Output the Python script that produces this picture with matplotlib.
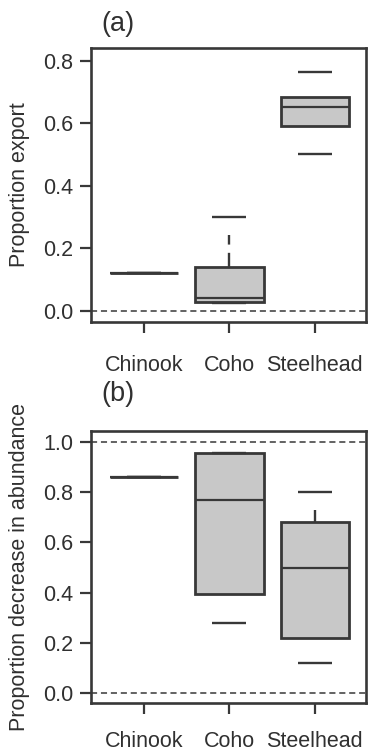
import matplotlib
matplotlib.use('Agg')
import matplotlib.pyplot as plt

plt.rcParams['font.family'] = ['Liberation Sans', 'DejaVu Sans']

# Espécies (eixo x)
especies = ['Chinook', 'Coho', 'Steelhead']

# (a) Proporção exportada - resumo dos boxplots
exp_q1 = [0.12, 0.029, 0.592]
exp_med = [0.12, 0.041, 0.653]
exp_q3 = [0.12, 0.140, 0.682]
exp_wlo = [0.12, 0.029, 0.592]
exp_whi = [0.12, 0.242, 0.682]
exp_min = [0.12, 0.025, 0.503]
exp_max = [0.12, 0.300, 0.764]

# (b) Proporção de redução na abundância
dec_q1 = [0.86, 0.394, 0.219]
dec_med = [0.86, 0.769, 0.498]
dec_q3 = [0.86, 0.956, 0.681]
dec_wlo = [0.86, 0.394, 0.219]
dec_whi = [0.86, 0.956, 0.729]
dec_min = [0.86, 0.279, 0.120]
dec_max = [0.86, 0.956, 0.800]

cor_linha = '#383838'
cor_caixa = '#c8c8c8'
cor_texto = '#303030'


def monta_stats(q1, med, q3, wlo, whi, vmin, vmax):
    stats = []
    for i in range(len(q1)):
        stats.append({'q1': q1[i], 'med': med[i], 'q3': q3[i],
                      'whislo': wlo[i], 'whishi': whi[i],
                      'fliers': [vmin[i], vmax[i]]})
    return stats


def desenha_painel(ax, stats, refs, ylim, yticks, ylabel, pad_x):
    ax.bxp(stats, positions=[1, 2, 3], widths=0.8, patch_artist=True,
           showcaps=False,
           boxprops=dict(facecolor=cor_caixa, edgecolor=cor_linha, linewidth=2.0),
           medianprops=dict(color=cor_linha, linewidth=1.6),
           whiskerprops=dict(color=cor_linha, linewidth=1.7, linestyle=(0, (6, 3.5))),
           flierprops=dict(marker='_', markersize=25, markeredgewidth=1.7,
                           markeredgecolor=cor_linha))
    for r in refs:
        ax.axhline(r, color=cor_linha, linewidth=1.1, linestyle=(0, (4, 2.5)), zorder=0)
    ax.set_xlim(0.38, 3.6)
    ax.set_ylim(*ylim)
    ax.set_yticks(yticks)
    ax.set_yticklabels([f'{t:.1f}' for t in yticks])
    ax.set_xticks([1, 2, 3])
    ax.set_xticklabels(especies)
    ax.tick_params(axis='y', length=8, width=1.6, color=cor_linha, labelcolor=cor_texto,
                   labelsize=15.5, pad=5)
    ax.tick_params(axis='x', length=8, width=1.6, color=cor_linha, labelcolor=cor_texto,
                   labelsize=15.5, pad=pad_x)
    for s in ax.spines.values():
        s.set_linewidth(1.9)
        s.set_color(cor_linha)
    ax.set_ylabel(ylabel, fontsize=15.5, color=cor_texto)


fig = plt.figure(figsize=(3.7, 7.55), dpi=100)
ax_a = fig.add_axes([91 / 370, 1 - 322 / 755, 275 / 370, 274 / 755])
ax_b = fig.add_axes([91 / 370, 1 - 703 / 755, 275 / 370, 272 / 755])

desenha_painel(ax_a, monta_stats(exp_q1, exp_med, exp_q3, exp_wlo, exp_whi, exp_min, exp_max),
               [0.0], (-0.035, 0.84), [0.0, 0.2, 0.4, 0.6, 0.8], 'Proportion export', 16)
desenha_painel(ax_b, monta_stats(dec_q1, dec_med, dec_q3, dec_wlo, dec_whi, dec_min, dec_max),
               [0.0, 1.0], (-0.04, 1.044), [0.0, 0.2, 0.4, 0.6, 0.8, 1.0],
               'Proportion decrease in abundance', 12.5)

for ax in (ax_a, ax_b):
    ax.yaxis.set_label_coords(-61 / 275, 0.5)

fig.text(101 / 370, 1 - 24 / 755, '(a)', fontsize=19.5, color=cor_texto, va='center', ha='left')
fig.text(101 / 370, 1 - 394 / 755, '(b)', fontsize=19.5, color=cor_texto, va='center', ha='left')

fig.savefig('out.png', dpi=100)
